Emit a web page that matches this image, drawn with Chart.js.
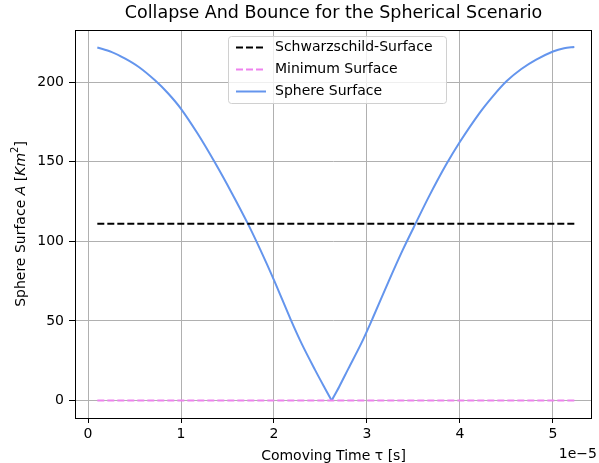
<!DOCTYPE html>
<html>
<head>
<meta charset="utf-8">
<script src="https://cdn.jsdelivr.net/npm/chart.js@4"></script>
<style>
  html, body { margin: 0; padding: 0; background: #fff; }
  #wrap { width: 599px; height: 463px; }
</style>
</head>
<body>
<div id="wrap"><canvas id="chart" width="599" height="463"></canvas></div>
<script>
// Comoving time in units of 1e-5 s, area in Km^2
// collapse branch (down to the bounce) and bounce branch (back up)
const collapseTimes = [0.10, 0.25, 0.40, 0.55, 0.72, 0.86, 1.00, 1.18, 1.36, 1.55, 1.72, 1.86, 2.00, 2.18, 2.30, 2.44, 2.54, 2.62];
const collapseArea  = [221.7, 219.0, 214.7, 209.3, 201.1, 193.0, 183.2, 167.5, 149.9, 129.9, 110.9, 93.8, 75.6, 50.8, 35.4, 19.4, 8.5, 0];
const bounceTimes = [2.62, 2.70, 2.80, 2.94, 3.06, 3.24, 3.38, 3.53, 3.67, 3.85, 4.00, 4.21, 4.36, 4.50, 4.66, 4.82, 5.00, 5.12, 5.23];
const bounceArea  = [0, 8.5, 20, 36, 51.5, 75.8, 94, 112, 128.5, 148, 162.5, 180.5, 191.5, 200.5, 208.2, 214.1, 219.2, 221.3, 222];

const lineTimes = [0.10, 5.23];
const schwarzschildArea = [111, 111];
const minimumArea = [0, 0];

const xTicks = [0, 1, 2, 3, 4, 5];
const yTicks = [0, 50, 100, 150, 200];

const FONT = "'DejaVu Sans', sans-serif";
const SPHERE_COLOR = '#6495ed';

function toPoints(xs, ys) {
    return xs.map((x, i) => ({ x: x, y: ys[i] }));
}

// black box round the plot, offset label and y title, like matplotlib
const framePlugin = {
    id: 'frame',
    afterDatasetsDraw(chart) {
        const { ctx, chartArea: a } = chart;
        ctx.save();
        ctx.strokeStyle = '#000';
        ctx.lineWidth = 1;
        ctx.strokeRect(a.left + 0.5, a.top + 0.5, a.right - a.left - 1, a.bottom - a.top);
        ctx.restore();
    },
    afterDraw(chart) {
        const { ctx, chartArea: a } = chart;
        ctx.save();
        ctx.fillStyle = '#000';
        ctx.font = '14px ' + FONT;
        ctx.textAlign = 'right';
        ctx.textBaseline = 'middle';
        ctx.fillText('1e\u22125', 597, 454);

        // y axis title with math parts
        const parts = [
            { t: 'Sphere Surface ', f: '14px ' + FONT, dy: 0 },
            { t: 'A', f: 'italic 14px ' + FONT, dy: 0 },
            { t: ' [', f: '14px ' + FONT, dy: 0 },
            { t: 'Km', f: 'italic 14px ' + FONT, dy: 0 },
            { t: '2', f: '10px ' + FONT, dy: -6 },
            { t: ']', f: '14px ' + FONT, dy: 0 }
        ];
        let total = 0;
        parts.forEach(p => { ctx.font = p.f; p.w = ctx.measureText(p.t).width; total += p.w; });
        const cy = (a.top + a.bottom) / 2;
        ctx.translate(21, cy);
        ctx.rotate(-Math.PI / 2);
        ctx.textAlign = 'left';
        let px = -total / 2;
        parts.forEach(p => {
            ctx.font = p.f;
            ctx.fillText(p.t, px, p.dy);
            px += p.w;
        });
        ctx.restore();
    }
};

// legend box drawn inside the axes
const legendPlugin = {
    id: 'boxLegend',
    afterDraw(chart) {
        const { ctx } = chart;
        const x = 228, y = 36, w = 218, h = 67;
        ctx.save();
        ctx.fillStyle = 'rgba(255,255,255,0.8)';
        ctx.strokeStyle = '#d0d0d0';
        ctx.lineWidth = 1;
        ctx.beginPath();
        ctx.roundRect(x + 0.5, y + 0.5, w, h, 3);
        ctx.fill();
        ctx.stroke();
        ctx.font = '14px ' + FONT;
        ctx.textBaseline = 'middle';
        chart.data.datasets.filter(ds => ds.label).forEach((ds, i) => {
            const ry = y + 11.5 + i * 22;
            ctx.strokeStyle = ds.borderColor;
            ctx.lineWidth = ds.borderWidth;
            ctx.setLineDash(ds.borderDash || []);
            ctx.beginPath();
            ctx.moveTo(x + 8, ry);
            ctx.lineTo(x + 38, ry);
            ctx.stroke();
            ctx.setLineDash([]);
            ctx.fillStyle = '#000';
            ctx.fillText(ds.label, x + 47, ry);
        });
        ctx.restore();
    }
};

new Chart(document.getElementById('chart'), {
    type: 'line',
    data: {
        datasets: [
            {
                label: 'Schwarzschild-Surface',
                data: toPoints(lineTimes, schwarzschildArea),
                borderColor: '#000000',
                borderWidth: 2,
                borderDash: [7, 3],
                pointRadius: 0,
                fill: false
            },
            {
                label: 'Minimum Surface',
                data: toPoints(lineTimes, minimumArea),
                borderColor: '#ee82ee',
                borderWidth: 2,
                borderDash: [7, 3],
                pointRadius: 0,
                fill: false
            },
            {
                label: 'Sphere Surface',
                data: toPoints(collapseTimes, collapseArea),
                borderColor: SPHERE_COLOR,
                borderWidth: 2,
                pointRadius: 0,
                tension: 0.3,
                fill: false
            },
            {
                label: '',
                data: toPoints(bounceTimes, bounceArea),
                borderColor: SPHERE_COLOR,
                borderWidth: 2,
                pointRadius: 0,
                tension: 0.3,
                fill: false
            }
        ]
    },
    options: {
        responsive: false,
        animation: false,
        layout: { padding: { left: 0, right: 7, top: 0, bottom: 0 } },
        plugins: {
            legend: { display: false },
            tooltip: { enabled: false },
            title: {
                display: true,
                fullSize: false,
                text: 'Collapse And Bounce for the Spherical Scenario',
                color: '#000',
                font: { family: FONT, size: 17.5, weight: 'normal' },
                padding: { top: 3, bottom: 6 }
            }
        },
        scales: {
            x: {
                type: 'linear',
                min: -0.14,
                max: 5.42,
                afterBuildTicks(scale) {
                    scale.ticks = xTicks.map(v => ({ value: v }));
                },
                afterFit(scale) {
                    scale.height = 45;
                    scale.paddingLeft = 0;
                    scale.paddingRight = 0;
                },
                grid: { color: '#b0b0b0', lineWidth: 1, tickColor: '#000', tickLength: 5 },
                border: { display: false },
                ticks: { color: '#000', font: { family: FONT, size: 14 }, padding: 3, maxRotation: 0 },
                title: {
                    display: true,
                    text: 'Comoving Time \u03c4 [s]',
                    color: '#000',
                    font: { family: FONT, size: 14, lineHeight: 1 },
                    padding: { top: 0, bottom: 0 }
                }
            },
            y: {
                type: 'linear',
                min: -11,
                max: 232.7,
                afterBuildTicks(scale) {
                    scale.ticks = yTicks.map(v => ({ value: v }));
                },
                afterFit(scale) { scale.width = 75; },
                grid: { color: '#b0b0b0', lineWidth: 1, tickColor: '#000', tickLength: 6 },
                border: { display: false },
                ticks: { color: '#000', font: { family: FONT, size: 14 }, padding: 5 }
            }
        }
    },
    plugins: [framePlugin, legendPlugin]
});
</script>
</body>
</html>
